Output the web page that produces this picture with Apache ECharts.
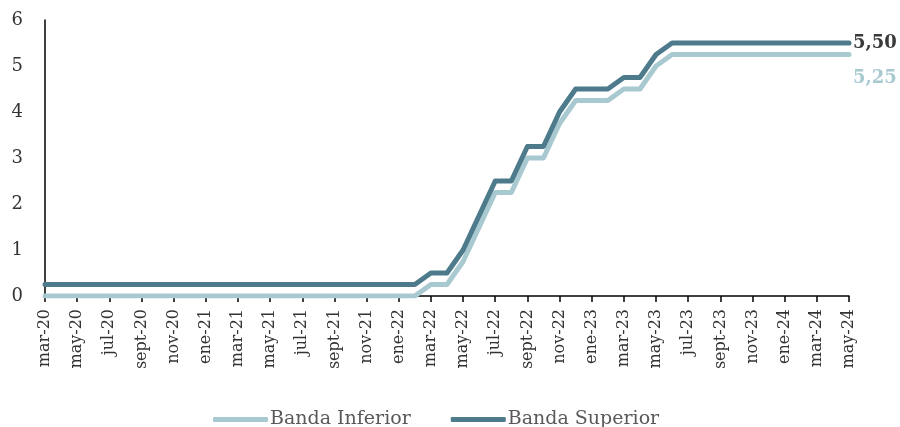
<!DOCTYPE html>
<html>
<head>
<meta charset="utf-8">
<script src="https://cdn.jsdelivr.net/npm/echarts@6/dist/echarts.min.js"></script>
<style>html,body{margin:0;padding:0;background:#fff}#c{width:900px;height:427px}</style>
</head>
<body>
<div id="c"></div>
<script>
const categories = [
  'mar-20','abr-20','may-20','jun-20','jul-20','ago-20','sept-20','oct-20','nov-20','dic-20',
  'ene-21','feb-21','mar-21','abr-21','may-21','jun-21','jul-21','ago-21','sept-21','oct-21','nov-21','dic-21',
  'ene-22','feb-22','mar-22','abr-22','may-22','jun-22','jul-22','ago-22','sept-22','oct-22','nov-22','dic-22',
  'ene-23','feb-23','mar-23','abr-23','may-23','jun-23','jul-23','ago-23','sept-23','oct-23','nov-23','dic-23',
  'ene-24','feb-24','mar-24','abr-24','may-24'
];
const bandaSuperior = [
  0.25,0.25,0.25,0.25,0.25,0.25,0.25,0.25,0.25,0.25,
  0.25,0.25,0.25,0.25,0.25,0.25,0.25,0.25,0.25,0.25,0.25,0.25,
  0.25,0.25,0.50,0.50,1.00,1.75,2.50,2.50,3.25,3.25,4.00,4.50,
  4.50,4.50,4.75,4.75,5.25,5.50,5.50,5.50,5.50,5.50,5.50,5.50,
  5.50,5.50,5.50,5.50,5.50
];
const bandaInferior = [
  0,0,0,0,0,0,0,0,0,0,
  0,0,0,0,0,0,0,0,0,0,0,0,
  0,0,0.25,0.25,0.75,1.50,2.25,2.25,3.00,3.00,3.75,4.25,
  4.25,4.25,4.50,4.50,5.00,5.25,5.25,5.25,5.25,5.25,5.25,5.25,
  5.25,5.25,5.25,5.25,5.25
];
const yTicks = [0,1,2,3,4,5,6];

const FONT = 'DejaVu Serif';
const DARK = '#4e7b8b';
const LIGHT = '#a9c9d1';
const fmt = v => v.toFixed(2).replace('.', ',');

const chart = echarts.init(document.getElementById('c'), null, {renderer: 'canvas'});
chart.setOption({
  animation: false,
  textStyle: {fontFamily: FONT},
  grid: {left: 45, right: 51, top: 20, bottom: 131, containLabel: false},
  legend: {
    top: 405,
    left: 208,
    icon: 'roundRect',
    itemWidth: 55,
    itemHeight: 5,
    itemGap: 40,
    textStyle: {fontFamily: FONT, fontSize: 19, color: '#595959', padding: [0,0,0,-3]},
    data: ['Banda Inferior', 'Banda Superior']
  },
  xAxis: {
    type: 'category',
    data: categories,
    boundaryGap: false,
    axisLine: {lineStyle: {color: '#000', width: 1.5}},
    axisTick: {show: true, interval: 1, length: 6, lineStyle: {color: '#000', width: 1.5}},
    axisLabel: {interval: 1, rotate: 90, fontFamily: FONT, fontSize: 16, color: '#333', margin: 13},
    splitLine: {show: false}
  },
  yAxis: {
    type: 'value',
    min: yTicks[0],
    max: yTicks[yTicks.length - 1],
    interval: 1,
    axisLine: {show: true, lineStyle: {color: '#000', width: 1.5}},
    axisTick: {show: false},
    axisLabel: {fontFamily: FONT, fontSize: 18, color: '#333', margin: 22},
    splitLine: {show: false}
  },
  series: [
    {
      name: 'Banda Inferior',
      type: 'line',
      data: bandaInferior,
      showSymbol: false,
      symbol: 'none',
      color: LIGHT,
      lineStyle: {color: LIGHT, width: 5, cap: 'round', join: 'round'},
      endLabel: {
        show: true,
        formatter: p => fmt(p.value),
        fontFamily: FONT, fontSize: 18, fontWeight: 'bold', color: LIGHT,
        offset: [0, 24], distance: 4
      }
    },
    {
      name: 'Banda Superior',
      type: 'line',
      data: bandaSuperior,
      showSymbol: false,
      symbol: 'none',
      color: DARK,
      lineStyle: {color: DARK, width: 5, cap: 'round', join: 'round'},
      endLabel: {
        show: true,
        formatter: p => fmt(p.value),
        fontFamily: FONT, fontSize: 18, fontWeight: 'bold', color: '#3a3a3a',
        distance: 4
      }
    }
  ]
});
</script>
</body>
</html>
